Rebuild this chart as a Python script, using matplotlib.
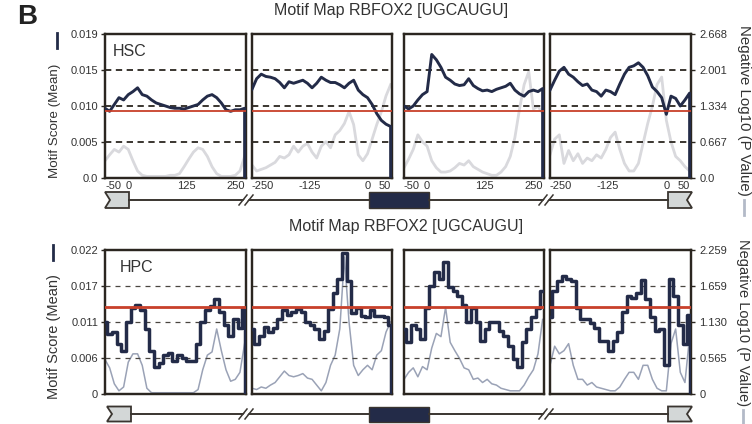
import numpy as np
import matplotlib.pyplot as plt
from matplotlib.patches import Polygon, Rectangle

plt.rcParams['font.family'] = ['Liberation Sans', 'DejaVu Sans']

W, H = 752, 424

# positions relative to splice sites
x_down = np.arange(-50, 251, 10)   # panels 1 and 3
x_up = np.arange(-250, 51, 10)     # panels 2 and 4
xticks_down = [-50, 0, 125, 250]
xticks_up = [-250, -125, 0, 50]
xlab_down = ['-50', '0', '125', '250']
xlab_up = ['-250', '-125', '0', '50']

# HSC  (trailing 0 = edge drop at the end of the window)
hsc_score = [
    [0.0092, 0.0088, 0.0097, 0.0106, 0.0103, 0.0110, 0.0114, 0.0119, 0.0110, 0.0108, 0.0103,
     0.0099, 0.0097, 0.0095, 0.0093, 0.0092, 0.0092, 0.0091, 0.0093, 0.0095, 0.0097,
     0.0103, 0.0108, 0.0110, 0.0106, 0.0099, 0.0090, 0.0088, 0.0090, 0.0090, 0.0092, 0.0],
    [0.0117, 0.0131, 0.0137, 0.0134, 0.0133, 0.0131, 0.0126, 0.0119, 0.0127, 0.0125, 0.0127,
     0.0129, 0.0125, 0.0119, 0.0125, 0.0133, 0.0129, 0.0126, 0.0126, 0.0123, 0.0119,
     0.0125, 0.0129, 0.0116, 0.0110, 0.0106, 0.0097, 0.0085, 0.0076, 0.0071, 0.0068, 0.0],
    [0.0095, 0.0091, 0.0095, 0.0103, 0.0110, 0.0114, 0.0163, 0.0156, 0.0146, 0.0133, 0.0129,
     0.0124, 0.0122, 0.0123, 0.0131, 0.0122, 0.0118, 0.0115, 0.0116, 0.0114, 0.0117,
     0.0119, 0.0121, 0.0125, 0.0116, 0.0111, 0.0108, 0.0114, 0.0116, 0.0114, 0.0118, 0.0],
    [0.0116, 0.0129, 0.0141, 0.0146, 0.0137, 0.0133, 0.0127, 0.0122, 0.0124, 0.0116, 0.0114,
     0.0108, 0.0116, 0.0114, 0.0110, 0.0124, 0.0137, 0.0146, 0.0148, 0.0152, 0.0146,
     0.0135, 0.0120, 0.0114, 0.0106, 0.0084, 0.0108, 0.0105, 0.0095, 0.0103, 0.0112, 0.0],
]
hsc_logp = [
    [.32, .43, .53, .48, .59, .53, .32, .13, .05, .03, .03, .03, .03, .03, .05, .05,
     .08, .21, .35, .48, .56, .53, .40, .21, .08, .03, .03, .03, .05, .13, .40],
    [.24, .13, .16, .19, .24, .29, .40, .37, .43, .59, .48, .59, .64, .48, .37, .59,
     .67, .56, .80, .88, 1.01, 1.23, .99, .43, .32, .45, .72, .99, 1.23, 1.52, 1.73],
    [.19, .35, .53, .80, .67, .59, .32, .19, .11, .11, .13, .19, .27, .24, .32, .21,
     .16, .11, .08, .05, .05, .11, .21, .40, .75, 1.28, 1.73, 1.97, 1.28, 1.33, 1.20],
    [.43, .72, .80, .27, .51, .32, .45, .27, .37, .32, .43, .37, .53, .75, .85, .53,
     .27, .13, .13, .27, .64, 1.01, 1.33, 1.73, 1.87, 1.07, .67, .40, .32, .21, .13],
]
hsc_bg = 0.0089
hsc_ymax, hsc_pmax = 0.019, 2.668
hsc_yt = ['0.0', '0.005', '0.010', '0.015', '0.019']
hsc_pt = ['0.0', '0.667', '1.334', '2.001', '2.668']

# HPC
hpc_score = [
    [0.0110, 0.0092, 0.0095, 0.0077, 0.0066, 0.0110, 0.0132, 0.0136, 0.0128, 0.0099, 0.0066,
     0.0042, 0.0048, 0.0059, 0.0062, 0.0051, 0.0059, 0.0055, 0.0051, 0.0051, 0.0077,
     0.0110, 0.0128, 0.0134, 0.0145, 0.0125, 0.0106, 0.0088, 0.0114, 0.0101, 0.0132, 0.0],
    [0.0099, 0.0077, 0.0088, 0.0103, 0.0095, 0.0101, 0.0114, 0.0128, 0.0121, 0.0125, 0.0130,
     0.0125, 0.0110, 0.0106, 0.0099, 0.0084, 0.0097, 0.0130, 0.0154, 0.0176, 0.0216,
     0.0172, 0.0123, 0.0132, 0.0119, 0.0117, 0.0128, 0.0119, 0.0119, 0.0117, 0.0106, 0.0],
    [0.0099, 0.0079, 0.0106, 0.0099, 0.0084, 0.0132, 0.0165, 0.0187, 0.0176, 0.0202, 0.0163,
     0.0158, 0.0150, 0.0136, 0.0110, 0.0132, 0.0110, 0.0081, 0.0099, 0.0110, 0.0110,
     0.0097, 0.0088, 0.0073, 0.0053, 0.0042, 0.0079, 0.0099, 0.0117, 0.0132, 0.0158],
    [0.0117, 0.0158, 0.0172, 0.0180, 0.0176, 0.0172, 0.0132, 0.0114, 0.0114, 0.0108, 0.0101,
     0.0081, 0.0081, 0.0066, 0.0081, 0.0095, 0.0125, 0.0150, 0.0147, 0.0154, 0.0174,
     0.0145, 0.0117, 0.0097, 0.0099, 0.0044, 0.0176, 0.0150, 0.0106, 0.0077, 0.0121, 0.0],
]
hpc_logp = [
    [.54, .41, .16, .05, .11, .50, .63, .63, .45, .09, .02, .02, .02, .02, .02, .02,
     .02, .02, .02, .02, .07, .38, .61, .66, 1.02, .68, .38, .20, .23, .34, .79],
    [.09, .07, .11, .09, .14, .18, .27, .36, .29, .27, .29, .32, .25, .23, .14, .05,
     .18, .45, .61, 1.02, 2.15, 1.13, .45, .29, .38, .45, .38, .61, .68, .97, 1.13],
    [.23, .34, .41, .27, .43, .38, .72, .95, .90, 1.36, .81, .68, .56, .41, .38, .23,
     .25, .18, .23, .16, .14, .09, .07, .05, .05, .05, .14, .27, .38, .63, 1.17],
    [.45, .75, .63, .68, .79, .45, .23, .23, .14, .18, .11, .09, .07, .05, .05, .11,
     .23, .34, .34, .23, .45, .45, .23, .09, .05, .05, .79, 1.02, .34, .18, .90],
]
hpc_bg = 0.0133
hpc_ymax, hpc_pmax = 0.022, 2.259
hpc_yt = ['0', '0.006', '0.011', '0.017', '0.022']
hpc_pt = ['0', '0.565', '1.130', '1.659', '2.259']

title = 'Motif Map RBFOX2 [UGCAUGU]'

NAVY = '#232b48'
RED = '#c8402a'
EDGE = '#2b2620'
TXT = '#333333'

fig = plt.figure(figsize=(W / 100, H / 100), dpi=100)
cols = [(105, 246), (252, 392), (404, 544), (550, 691)]


def px_axes(x0, x1, y0, y1):
    return fig.add_axes([x0 / W, 1 - y1 / H, (x1 - x0) / W, (y1 - y0) / H])


def draw_row(y0, y1, scores, logp, bg, ymax, pmax, yt, pt, gray, top):
    for i, (x0, x1) in enumerate(cols):
        ax = px_axes(x0, x1, y0, y1)
        tw = ax.twinx()
        ax.set_zorder(tw.get_zorder() + 1)
        ax.patch.set_visible(False)
        xs = x_down if i % 2 == 0 else x_up
        s = scores[i]
        xsn = xs if len(s) == len(xs) else np.append(xs, xs[-1])
        if top:
            ax.plot(xsn, s, color=NAVY, lw=2.1, zorder=4)
            tw.plot(xs, logp[i], color=gray, lw=2.0)
            dash_lw, dash, dcol = 1.3, (0, (3.5, 2.5)), EDGE
            ax.axhline(bg, color=RED, lw=1.3, zorder=5)
        else:
            ax.plot(xsn, s, color=NAVY, lw=2.5, drawstyle='steps-mid', zorder=4)
            tw.plot(xs, logp[i], color=gray, lw=1.1)
            dash_lw, dash, dcol = 0.9, (0, (4, 4)), '#4a4640'
            ax.axhline(bg, color=RED, lw=2.0, zorder=5)
        for k in (1, 2, 3):
            ax.axhline(ymax * k / 4, color=dcol, lw=dash_lw, ls=dash, zorder=2)
        ax.set_ylim(0, ymax)
        tw.set_ylim(0, pmax)
        if i % 2 == 0:
            ax.set_xlim(-50, 253)
            ax.set_xticks(xticks_down, labels=xlab_down)
        else:
            ax.set_xlim(-250, 53)
            ax.set_xticks(xticks_up, labels=xlab_up)
        labs = ax.get_xticklabels()
        labs[0].set_ha('left')
        labs[-1].set_ha('right')
        ax.set_yticks(np.linspace(0, ymax, 5), labels=yt)
        tw.set_yticks(np.linspace(0, pmax, 5), labels=pt)
        ax.tick_params(axis='x', length=0, pad=2, labelsize=8, labelcolor=TXT,
                       labelbottom=top)
        ax.tick_params(axis='y', length=3, width=1, pad=2, labelsize=8,
                       labelcolor=TXT, color=EDGE, left=(i == 0), labelleft=(i == 0))
        tw.tick_params(axis='y', length=3, width=1, pad=3, labelsize=8,
                       labelcolor=TXT, color=EDGE, right=(i == 3), labelright=(i == 3))
        for a in (ax, tw):
            for sp in a.spines.values():
                sp.set_color(EDGE)
                sp.set_linewidth(1.6)


draw_row(34, 178, hsc_score, hsc_logp, hsc_bg, hsc_ymax, hsc_pmax, hsc_yt, hsc_pt,
         '#d9d9dd', True)
draw_row(250, 394, hpc_score, hpc_logp, hpc_bg, hpc_ymax, hpc_pmax, hpc_yt, hpc_pt,
         '#9aa2b6', False)

# overlay in pixel coordinates for labels and gene model
ov = fig.add_axes([0, 0, 1, 1], zorder=-1)
ov.set_xlim(0, W)
ov.set_ylim(H, 0)
ov.axis('off')


def gene(yc, hh, lx, rx):
    ov.plot([lx + 24, 369], [yc, yc], color='#3a3530', lw=1.4)
    ov.plot([429, rx - 24], [yc, yc], color='#3a3530', lw=1.4)
    ov.add_patch(Polygon([(lx, yc - hh), (lx + 24, yc - hh), (lx + 24, yc + hh),
                          (lx, yc + hh), (lx + 5, yc)], closed=True,
                         facecolor='#d3d7d7', edgecolor='#3a3530', lw=1.3))
    ov.add_patch(Polygon([(rx - 24, yc - hh), (rx, yc - hh), (rx - 5, yc),
                          (rx, yc + hh), (rx - 24, yc + hh)], closed=True,
                         facecolor='#d3d7d7', edgecolor='#3a3530', lw=1.3))
    ov.add_patch(Rectangle((369, yc - hh), 60, 2 * hh, facecolor=NAVY,
                           edgecolor='#3a3530', lw=1.0))
    for bx in (246, 546):
        ov.add_patch(Polygon([(bx - 5, yc + 4), (bx - 1, yc + 4), (bx + 5, yc - 4),
                              (bx + 1, yc - 4)], closed=True, facecolor='white',
                             edgecolor='none', zorder=3))
        for d in (-4, 2):
            ov.plot([bx + d - 3, bx + d + 5], [yc + 5, yc - 5], color='#3a3530',
                    lw=1.1, zorder=4)


gene(200, 8, 105, 692)
gene(414, 7.5, 107, 692)

ov.text(27, 17, 'B', fontsize=20, fontweight='bold', ha='center', va='center',
        color='#222222')
ov.text(391, 11, title, fontsize=11.5, ha='center', va='center', color=TXT)
ov.text(406, 227, title, fontsize=11.5, ha='center', va='center', color=TXT)
ov.text(113, 51, 'HSC', fontsize=11.5, ha='left', va='center', color=TXT)
ov.text(120, 267, 'HPC', fontsize=11.5, ha='left', va='center', color=TXT)

ov.text(55, 121, 'Motif Score (Mean)', fontsize=9.6, rotation=90, ha='center',
        va='center', color=TXT)
ov.plot([57, 57], [33, 48], color=NAVY, lw=2)
ov.text(54, 337, 'Motif Score (Mean)', fontsize=10.5, rotation=90, ha='center',
        va='center', color=TXT)
ov.plot([53, 53], [245, 260], color=NAVY, lw=2)

ov.text(744, 110, 'Negative Log10 (P Value)', fontsize=10.8, rotation=270,
        ha='center', va='center', color=TXT)
ov.plot([744, 744], [200, 215], color='#b3bac8', lw=2)
ov.text(743, 323, 'Negative Log10 (P Value)', fontsize=10.5, rotation=270,
        ha='center', va='center', color=TXT)
ov.plot([743, 743], [410, 424], color='#b3bac8', lw=2)

fig.savefig('out.png', dpi=100)
